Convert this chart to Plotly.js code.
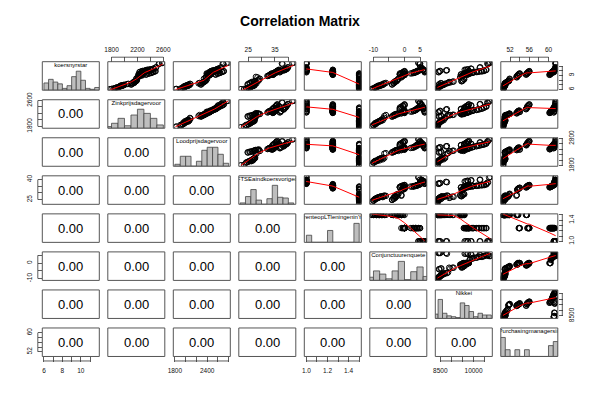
<!DOCTYPE html>
<html><head><meta charset="utf-8">
<script src="https://cdn.plot.ly/plotly-3.0.1.min.js"></script>
<style>html,body{margin:0;padding:0;background:#fff}#chart{width:600px;height:400px}</style>
</head><body><div id="chart"></div>
<script>
// ---------------- data ----------------
const varNames = ['koersnyrstar','Zinkprijsdagervoor','Loodprijsdagervoor','FTSEaindkoersvoriged','renteopLTleningeninY','Conjunctuurenquete','Nikkei','Purchasingmanagersin'];

const koers = [6.05,6.2,6.35,6.45,6.6,6.7,6.75,6.85,6.9,6.95,7.2,7.4,
  7.1,7.35,7.6,7.7,7.8,7.95,8.3,
  8.7,8.95,9.1,9.3,9.45,
  9.2,9.4,9.6,9.8,9.9,
  9.15,9.35,9.5,9.6,9.7,9.75,9.85,9.9,10.0,10.2,
  9.7,9.95,10.1,10.2,10.35,10.45,10.7,11.6,11.77,
  6.1,6.15,6.3,6.4,6.55,6.65,6.8,6.8,6.9,7.0,7.15,7.3,
  7.05,7.3,7.5,7.65,7.75,7.9,8.2,
  8.6,8.9,9.0,9.25,9.4,
  9.25,9.45,9.55,9.75,9.95,
  9.2,9.3,9.45,9.55,9.65,9.8,9.85,9.95,10.05,10.25,
  9.8,10.0,10.15,10.25,10.3,10.5,10.8,11.5,11.7];
const zink = [1775,1830,1870,1890,1920,1940,1960,1950,1985,1990,2060,2150,
  2110,2130,2140,2160,2170,2190,2180,
  2210,2240,2260,2280,2250,
  2330,2370,2420,2450,2470,
  2220,2240,2260,2280,2290,2310,2330,2350,2380,2420,
  2230,2270,2320,2360,2390,2440,2480,2540,2590,
  1800,1845,1860,1900,1915,1935,1945,1970,1975,2000,2040,2120,
  2100,2120,2150,2155,2175,2185,2195,
  2200,2230,2270,2290,2245,
  2340,2380,2410,2440,2480,
  2215,2235,2255,2275,2295,2305,2325,2345,2375,2410,
  2240,2280,2330,2350,2400,2450,2490,2530,2580];
const lood = [1810,1920,1950,1980,1960,2020,1990,2050,2070,2030,2080,2260,
  2290,2310,2330,2350,2360,2380,2340,
  2380,2420,2450,2470,2390,
  2560,2590,2640,2680,2700,
  2410,2430,2460,2480,2490,2520,2540,2570,2580,2610,
  2440,2470,2510,2550,2590,2600,2650,2690,2790,
  1830,1905,1940,1970,1975,2000,2010,2040,2060,2045,2090,2240,
  2280,2300,2320,2345,2355,2370,2395,
  2370,2410,2440,2460,2400,
  2550,2600,2630,2670,2710,
  2400,2425,2450,2470,2500,2515,2535,2560,2585,2620,
  2450,2480,2520,2560,2580,2610,2660,2700,2760];
const ftse = [22.3,24.5,25.2,25.8,26.2,26.5,26.8,27.0,27.3,26.9,27.6,27.8,
  24.8,25.5,26.3,27.1,27.5,28.6,29.4,
  27.9,32.5,33.0,33.5,33.8,
  34.2,34.8,35.3,35.6,35.8,
  34.3,34.5,34.7,34.9,35.1,35.4,35.5,35.7,35.9,36.6,
  36.8,37.2,38.3,38.7,39.1,39.5,39.8,37.6,42.0,
  23.5,24.2,25.0,25.6,26.0,26.4,26.7,27.1,27.4,27.2,27.5,28.1,
  25.0,25.8,26.6,27.3,27.7,28.9,29.0,
  28.5,32.2,32.8,33.4,33.9,
  34.1,34.6,35.2,35.5,35.9,
  34.2,34.4,34.8,35.0,35.2,35.3,35.6,35.8,36.1,36.4,
  37.0,37.4,38.0,38.5,39.0,39.3,39.9,37.8,41.5];
const rente = [1.5,1.5,1.5,1.5,1.5,1.5,1.5,1.5,1.5,1.5,1.5,1.5,
  1.5,1.5,1.5,1.5,1.5,1.5,1.5,
  1.5,1.5,1.5,1.25,1.25,
  1.5,1.5,1.25,1.25,1.25,
  1.25,1.25,1.25,1.25,1.25,1.25,1.25,1.25,1.25,1.25,
  1.0,1.0,1.0,1.0,1.0,1.0,1.0,1.0,1.0,
  1.5,1.5,1.5,1.5,1.5,1.5,1.5,1.5,1.5,1.5,1.5,1.5,
  1.5,1.5,1.5,1.5,1.5,1.5,1.5,
  1.5,1.5,1.5,1.25,1.25,
  1.5,1.5,1.25,1.25,1.25,
  1.25,1.25,1.25,1.25,1.25,1.25,1.25,1.25,1.25,1.25,
  1.0,1.0,1.0,1.0,1.0,1.0,1.0,1.0,1.0];
const conj = [-10.5,-10,-9.5,-9,-9,-8.5,-8,-8,-7.5,-7,-6.5,-6,
  -4,-3.5,-3,-3,-2.5,-2.5,-2,
  -1,-0.5,0,0,0,
  -1.5,-1,-0.5,0,0,
  0,0,2.5,3,3,3.5,4,4,4.5,5,
  6.5,6.5,6.5,6,6,5.5,5.5,5,4.5,
  -10.5,-10,-9.5,-9.5,-9,-8.5,-8.5,-8,-7.5,-7.5,-7,-6.5,
  -4,-3.5,-3.5,-3,-3,-2.5,-2,
  -1,-1,-0.5,0,0,
  -1.5,-1.5,-1,-0.5,0,
  0,0,2,3,3.5,3.5,4,4,4.5,5,
  6.5,6.5,6,6,6,5.5,5,5,4.5];
const nikkei = [8370,8380,8395,8420,8450,8480,8510,8540,8580,8650,8720,8850,
  8460,8520,8900,9100,9450,9520,9560,
  9410,9480,9530,9580,9620,
  9440,9590,9660,9740,9780,
  9690,9760,9840,9950,9980,10150,10230,10390,10480,10560,
  8430,8470,8760,9650,9720,9900,10280,10620,10750,
  8375,8390,8410,8430,8460,8490,8500,8530,8560,8600,8690,8800,
  8440,8550,8950,9050,9470,9500,9580,
  9400,9460,9510,9560,9640,
  9430,9570,9670,9720,9790,
  9700,9780,9820,9920,10000,10120,10260,10350,10460,10580,
  8410,8500,8800,9600,9750,9880,10300,10650,10700];
const pmi = [50.5,50.6,50.5,50.7,50.6,50.8,50.7,50.9,50.8,51.0,50.9,51.0,
  50.9,51.0,51.3,51.5,51.6,51.8,51.9,
  53.3,53.5,53.6,53.8,54.0,
  55.3,55.5,55.6,55.8,56.0,
  60.2,60.4,60.5,60.6,60.7,60.8,60.9,61.0,61.2,61.3,
  61.1,61.2,61.3,61.3,61.4,61.4,61.5,61.5,61.5,
  50.6,50.5,50.7,50.6,50.8,50.7,50.9,50.8,51.0,50.9,50.8,51.0,
  50.9,51.0,51.2,51.4,51.7,51.8,51.9,
  53.4,53.5,53.7,53.9,54.0,
  55.4,55.5,55.7,55.9,56.0,
  60.3,60.4,60.5,60.6,60.7,60.8,60.9,61.0,61.1,61.2,
  61.1,61.2,61.2,61.3,61.4,61.5,61.4,61.5,61.5];

// histogram breaks: [start, width, end]
const histBreaks = [[6,0.5,12],[1700,100,2600],[1800,100,2800],[22,2,42],[1.0,0.05,1.5],[-12,2,8],[8200,200,10800],[50,1,62]];

// tick values and labels per variable
const tickVals = [
  [6,7,8,9,10,11],
  [1800,2000,2200,2400,2600],
  [1800,2000,2200,2400,2600,2800],
  [25,30,35,40],
  [1.0,1.1,1.2,1.3,1.4,1.5],
  [-10,-5,0,5],
  [8500,9000,9500,10000,10500],
  [52,54,56,58,60]];
const xTickText = [
  ['6','','8','','10',''],
  ['1800','','2200','','2600'],
  ['1800','','','2400','',''],
  ['25','','35',''],
  ['1.0','','1.2','','1.4',''],
  ['-10','','0','5'],
  ['8500','','','10000',''],
  ['52','','56','','60']];
const yTickText = [
  ['6','','','9','',''],
  ['1800','','','','2600'],
  ['1800','','','','','2800'],
  ['25','','','40'],
  ['1.0','','','','1.4',''],
  ['-10','','0',''],
  ['8500','','','',''],
  ['52','','','','60']];
const corText = '0.00';

// ---------------- helpers ----------------
const vars = [koers, zink, lood, ftse, rente, conj, nikkei, pmi];
const NV = 8, W = 600, H = 400;
const colLeft = 42.3, colStep = 65.5, panelW = 57;
const rowTop = 61.7, rowStep = 38.04, panelH = 28.5;
const tickLen = 4.5;
const FONT = 'Liberation Sans, Arial, Helvetica, sans-serif';
function xd(j){ const l = colLeft + j*colStep; return [l/W, (l+panelW)/W]; }
function yd(i){ const t = rowTop + i*rowStep; return [1-(t+panelH)/H, 1-t/H]; }
function rng(v){ const mn = Math.min(...v), mx = Math.max(...v), d = mx-mn; return [mn-0.04*d, mx+0.04*d]; }
const ranges = vars.map(rng);
const xid = j => j===0 ? 'x' : 'x'+(j+1);
const yid = i => i===0 ? 'y' : 'y'+(i+1);

function lowess(xs, ys, f, iter){
  const n = xs.length;
  const idx = xs.map((_,i)=>i).sort((a,b)=>xs[a]-xs[b]);
  const x = idx.map(i=>xs[i]), y = idx.map(i=>ys[i]);
  const ns = Math.max(2, Math.min(n, Math.floor(f*n + 1e-7)));
  const range = x[n-1]-x[0];
  const fit = new Array(n).fill(0), rw = new Array(n).fill(1);
  for (let it=0; it<=iter; it++){
    let nleft = 0, nright = ns-1;
    for (let i=0;i<n;i++){
      while (nright < n-1){
        const d1 = x[i]-x[nleft], d2 = x[nright+1]-x[i];
        if (d1 <= d2) break;
        nleft++; nright++;
      }
      const h = Math.max(x[i]-x[nleft], x[nright]-x[i]);
      const h9 = 0.999*h, h1 = 0.001*h;
      const w = new Array(n).fill(0);
      let a = 0, j, nrt = nleft;
      for (j=nleft; j<n; j++){
        const r = Math.abs(x[j]-x[i]);
        if (r <= h9){
          w[j] = (r <= h1) ? 1 : Math.pow(1-Math.pow(r/h,3),3);
          w[j] *= rw[j]; a += w[j]; nrt = j;
        } else if (x[j] > x[i]) break;
      }
      if (a <= 0){ fit[i] = y[i]; continue; }
      for (j=nleft;j<=nrt;j++) w[j] /= a;
      if (h > 0){
        let m = 0; for (j=nleft;j<=nrt;j++) m += w[j]*x[j];
        let b = x[i]-m, c = 0;
        for (j=nleft;j<=nrt;j++) c += w[j]*(x[j]-m)*(x[j]-m);
        if (Math.sqrt(c) > 0.001*range){
          b /= c;
          for (j=nleft;j<=nrt;j++) w[j] *= (b*(x[j]-m)+1);
        }
      }
      let s = 0; for (j=nleft;j<=nrt;j++) s += w[j]*y[j];
      fit[i] = s;
    }
    if (it === iter) break;
    const res = y.map((v,k)=>v-fit[k]);
    const ar = res.map(Math.abs).sort((p,q)=>p-q);
    const med = n%2 ? ar[(n-1)/2] : (ar[n/2-1]+ar[n/2])/2;
    const cmad = 6*med;
    if (cmad < 1e-7) break;
    const c9 = 0.999*cmad, c1 = 0.001*cmad;
    for (let k=0;k<n;k++){
      const r = Math.abs(res[k]);
      rw[k] = r <= c1 ? 1 : (r > c9 ? 0 : Math.pow(1-Math.pow(r/cmad,2),2));
    }
  }
  return {x, y: fit};
}

function histCounts(v, br){
  const [start, w, end] = br;
  const nb = Math.round((end-start)/w);
  const counts = new Array(nb).fill(0);
  v.forEach(val=>{
    let k = Math.ceil((val-start)/w - 1e-9) - 1;
    if (k < 0) k = 0; if (k >= nb) k = nb-1;
    counts[k]++;
  });
  const centers = counts.map((_,k)=>start+(k+0.5)*w);
  return {centers, counts, w};
}

// ---------------- build ----------------
const traces = [], shapes = [], annotations = [];
const layout = {
  width: W, height: H,
  margin: {l:0, r:0, t:0, b:0},
  paper_bgcolor: '#fff', plot_bgcolor: '#fff',
  showlegend: false, barmode: 'overlay',
  font: {family: FONT, color: '#000'},
  title: {text: 'Correlation Matrix', x: 0.5, xanchor: 'center', y: 1-21/H, yanchor: 'middle',
          font: {family: FONT, size: 14, color: '#000', weight: 'bold'}},
};

for (let j=0;j<NV;j++){
  const bottom = (j%2===0);
  const pos = bottom ? yd(NV-1)[0] : yd(0)[1];
  layout['xaxis'+(j===0?'':(j+1))] = {
    domain: xd(j), range: ranges[j], anchor: 'free', position: pos,
    side: bottom ? 'bottom' : 'top',
    tickmode: 'array', tickvals: tickVals[j], ticktext: xTickText[j],
    ticks: 'outside', ticklen: tickLen, tickwidth: 0.8, tickcolor: '#333',
    showline: false, showgrid: false, zeroline: false, fixedrange: true,
    ticklabelstandoff: 3,
    tickfont: {family: FONT, size: 6.5, color: '#111'}
  };
  const tv = tickVals[j];
  const ly = bottom ? pos - tickLen/H : pos + tickLen/H;
  shapes.push({type:'line', xref: xid(j), yref:'paper', x0: tv[0], x1: tv[tv.length-1], y0: ly, y1: ly,
               line:{color:'#333', width:0.8}});
}
for (let i=0;i<NV;i++){
  const right = (i%2===0);
  const pos = right ? xd(NV-1)[1] : xd(0)[0];
  layout['yaxis'+(i===0?'':(i+1))] = {
    domain: yd(i), range: ranges[i], anchor: 'free', position: pos,
    side: right ? 'right' : 'left', tickangle: -90,
    tickmode: 'array', tickvals: tickVals[i], ticktext: yTickText[i],
    ticks: 'outside', ticklen: tickLen, tickwidth: 0.8, tickcolor: '#333',
    showline: false, showgrid: false, zeroline: false, fixedrange: true,
    ticklabelstandoff: 3,
    tickfont: {family: FONT, size: 6.5, color: '#111'}
  };
  const tv = tickVals[i];
  const lx = right ? pos + tickLen/W : pos - tickLen/W;
  shapes.push({type:'line', yref: yid(i), xref:'paper', y0: tv[0], y1: tv[tv.length-1], x0: lx, x1: lx,
               line:{color:'#333', width:0.8}});
}

for (let i=0;i<NV;i++){
  for (let j=0;j<NV;j++){
    const [x0,x1] = xd(j), [y0,y1] = yd(i);
    if (i < j){
      traces.push({type:'scatter', mode:'markers', x: vars[j], y: vars[i], xaxis: xid(j), yaxis: yid(i),
        cliponaxis: true, hoverinfo:'skip',
        marker:{symbol:'circle-open', size:5.5, color:'#000', line:{width:1, color:'#000'}}});
      const lw = lowess(vars[j], vars[i], 2/3, 3);
      traces.push({type:'scatter', mode:'lines', x: lw.x, y: lw.y, xaxis: xid(j), yaxis: yid(i),
        cliponaxis: true, hoverinfo:'skip', line:{color:'#ff0000', width:1}});
    } else if (i === j){
      const h = histCounts(vars[i], histBreaks[i]);
      const mx = Math.max(...h.counts);
      const ya = 'yaxis'+(9+i);
      layout[ya] = {domain: yd(i), range:[0, 1.5*mx], visible:false, fixedrange:true, anchor:'free', position:0};
      traces.push({type:'bar', x: h.centers, y: h.counts, width: h.w, xaxis: xid(j), yaxis: 'y'+(9+i),
        hoverinfo:'skip', marker:{color:'#bebebe', line:{color:'#444', width:0.8}}});
      const r = ranges[j];
      traces.push({type:'scatter', mode:'text', x:[(r[0]+r[1])/2], y:[1.5*mx*0.875], text:[varNames[i]],
        xaxis: xid(j), yaxis: 'y'+(9+i), cliponaxis: true, hoverinfo:'skip',
        textposition:'middle center', textfont:{family: FONT, size:6, color:'#000'}});
    } else {
      annotations.push({xref:'paper', yref:'paper', x:(x0+x1)/2, y:(y0+y1)/2, text: corText, showarrow:false,
        xanchor:'center', yanchor:'middle', font:{family: FONT, size:13, color:'#000'}});
    }
    shapes.push({type:'rect', xref:'paper', yref:'paper', x0, x1, y0, y1, line:{color:'#555', width:1}, fillcolor:'rgba(0,0,0,0)'});
  }
}
layout.shapes = shapes;
layout.annotations = annotations;

Plotly.newPlot('chart', traces, layout, {displayModeBar:false, staticPlot:true});
</script>
</body></html>
